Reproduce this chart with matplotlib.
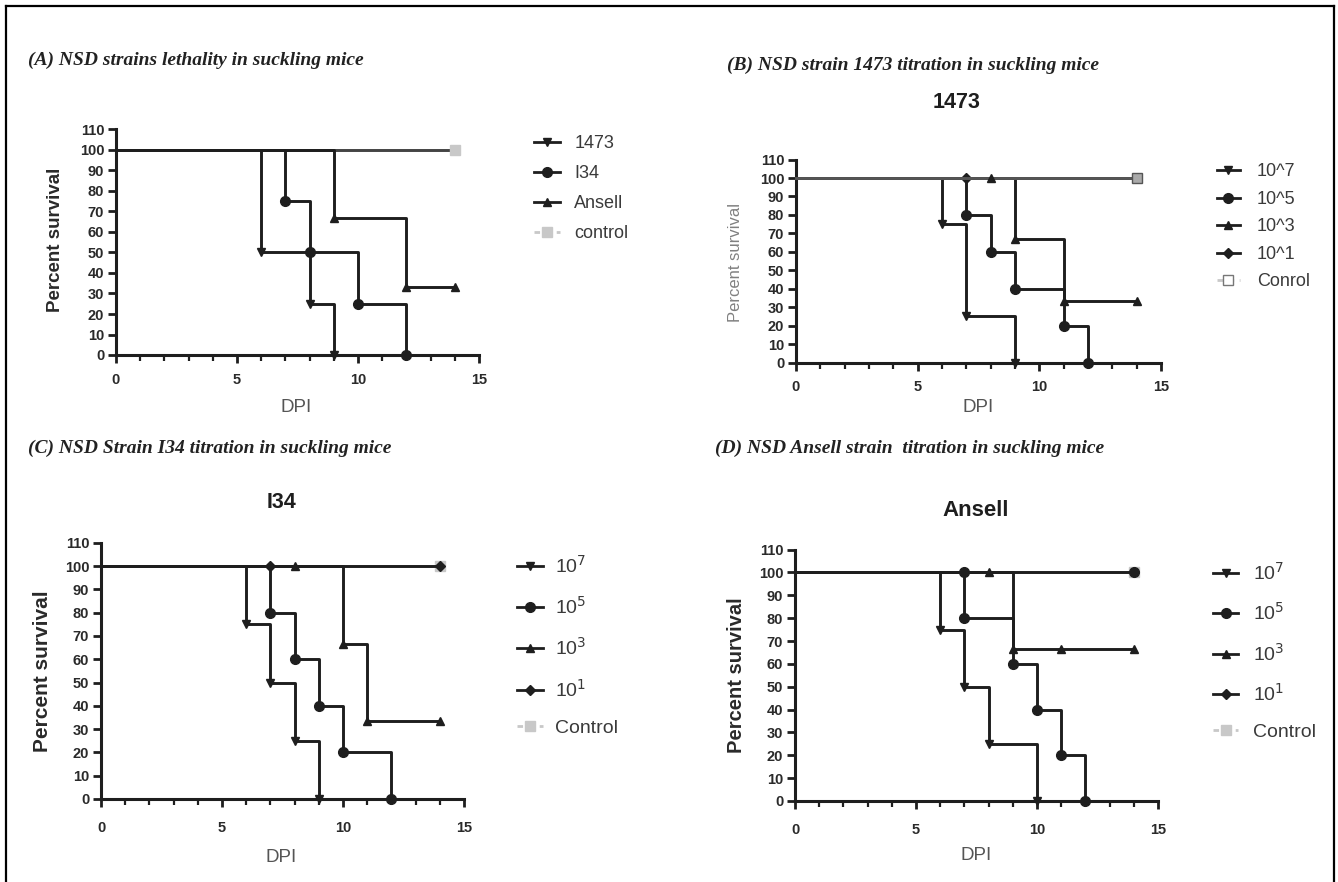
import matplotlib
matplotlib.use("Agg")
import matplotlib.pyplot as plt
from matplotlib.lines import Line2D
from matplotlib.ticker import MultipleLocator

W, H = 1338, 882

# ---- data: Kaplan-Meier steps (day, percent survival) ----
# (A) strains
a_labels = ["1473", "I34", "Ansell", "control"]
a_1473_t = [0, 6, 8, 9]
a_1473_s = [100, 50, 25, 0]
a_i34_t = [0, 7, 8, 10, 12]
a_i34_s = [100, 75, 50, 25, 0]
a_ansell_t = [0, 9, 12, 14]
a_ansell_s = [100, 66.7, 33.3, 33.3]
a_ctrl_t = [0, 14]
a_ctrl_s = [100, 100]

# (B) 1473 titration
b_labels = ["10^7", "10^5", "10^3", "10^1", "Conrol"]
b_e7_t = [0, 6, 7, 9]
b_e7_s = [100, 75, 25, 0]
b_e5_t = [0, 7, 8, 9, 11, 12]
b_e5_s = [100, 80, 60, 40, 20, 0]
b_e3_t = [0, 8, 9, 11, 14]
b_e3_s = [100, 100, 66.7, 33.3, 33.3]
b_e1_t = [0, 7, 14]
b_e1_s = [100, 100, 100]
b_ctrl_t = [0, 14]
b_ctrl_s = [100, 100]

# (C) I34 titration
c_labels = ["10$^7$", "10$^5$", "10$^3$", "10$^1$", "Control"]
c_e7_t = [0, 6, 7, 8, 9]
c_e7_s = [100, 75, 50, 25, 0]
c_e5_t = [0, 7, 8, 9, 10, 12]
c_e5_s = [100, 80, 60, 40, 20, 0]
c_e3_t = [0, 8, 10, 11, 14]
c_e3_s = [100, 100, 66.7, 33.3, 33.3]
c_e1_t = [0, 7, 14]
c_e1_s = [100, 100, 100]
c_ctrl_t = [0, 14]
c_ctrl_s = [100, 100]

# (D) Ansell titration
d_labels = ["10$^7$", "10$^5$", "10$^3$", "10$^1$", "Control"]
d_e7_t = [0, 6, 7, 8, 10]
d_e7_s = [100, 75, 50, 25, 0]
d_e5_t = [0, 7, 9, 10, 11, 12]
d_e5_s = [100, 80, 60, 40, 20, 0]
d_e3_t = [0, 8, 9, 11, 14]
d_e3_s = [100, 100, 66.7, 66.7, 66.7]
d_e1_t = [0, 7, 14]
d_e1_s = [100, 100, 100]
d_ctrl_t = [0, 14]
d_ctrl_s = [100, 100]

LC = "#1e1e1e"
GREY = "#c8c8c8"
markers = ["v", "o", "^", "D"]
msizes = [6, 7, 6, 5]

fig = plt.figure(figsize=(W / 100, H / 100), dpi=100)
plt.rcParams["font.family"] = ["Liberation Sans", "DejaVu Sans"]


def px_axes(x0, x15, y0, y110):
    ax = fig.add_axes([x0 / W, 1 - y0 / H, (x15 - x0) / W, (y0 - y110) / H])
    ax._px = (x0, x15, y0, y110)
    return ax


def km(ax, t, s, marker, ms, color=LC, mfc=None, zorder=3):
    ax.step(t, s, where="post", color=color, lw=2.1, zorder=zorder, clip_on=False)
    ax.plot(t[1:], s[1:], ls="none", marker=marker, ms=ms, color=color,
            mfc=mfc if mfc else color, clip_on=False, zorder=zorder + 1)


def style(ax, ylab_pos, xlab_pos, ylab_size, xpad, ylab_bold=True):
    x0, x15, y0, y110 = ax._px
    ax.set_xlim(0, 15)
    ax.set_ylim(0, 110)
    ax.xaxis.set_major_locator(MultipleLocator(5))
    ax.xaxis.set_minor_locator(MultipleLocator(1))
    ax.yaxis.set_major_locator(MultipleLocator(10))
    for side in ["top", "right"]:
        ax.spines[side].set_visible(False)
    for side in ["left", "bottom"]:
        ax.spines[side].set_linewidth(2.2)
        ax.spines[side].set_color(LC)
    ax.tick_params(which="major", direction="out", length=6, width=2, color=LC,
                   labelsize=10.5)
    ax.tick_params(axis="x", which="major", pad=xpad)
    ax.tick_params(axis="y", which="major", pad=2.5)
    ax.tick_params(which="minor", direction="out", length=4, width=1.6, color=LC)
    for lab in ax.get_xticklabels() + ax.get_yticklabels():
        lab.set_fontweight("bold")
        lab.set_color("#2a2a2a")
    ax.set_xlabel("DPI", fontsize=13.5, color="#555555")
    ax.xaxis.set_label_coords((xlab_pos[0] - x0) / (x15 - x0),
                              (y0 - xlab_pos[1]) / (y0 - y110))
    ax.xaxis.label.set_verticalalignment("center")
    ax.set_ylabel("Percent survival", fontsize=ylab_size,
                  fontweight="bold" if ylab_bold else "normal",
                  color="#2a2a2a" if ylab_bold else "#808080")
    ax.yaxis.set_label_coords((ylab_pos[0] - x0) / (x15 - x0),
                              (y0 - ylab_pos[1]) / (y0 - y110))
    ax.yaxis.label.set_verticalalignment("center")
    ax.patch.set_alpha(0)


def legend(ax, labels, x, y, fs, spacing, hlen, hpad, ctrl_face=GREY, ctrl_edge=GREY):
    handles = []
    n = len(labels)
    for i in range(n - 1):
        handles.append(Line2D([], [], color=LC, lw=2, marker=markers[i], ms=msizes[i]))
    handles.append(Line2D([], [], color=GREY, lw=2, ls=(0, (2, 2)), marker="s", ms=7,
                          mfc=ctrl_face, mec=ctrl_edge))
    ax.legend(handles, labels, loc="upper left", bbox_to_anchor=(x / W, 1 - y / H),
              bbox_transform=fig.transFigure, frameon=False, fontsize=fs,
              labelspacing=spacing, handlelength=hlen, handletextpad=hpad,
              borderaxespad=0, borderpad=0, labelcolor="#3a3a3a")


title_kw = dict(family=["Liberation Serif", "DejaVu Serif"], style="italic",
                fontweight="bold", fontsize=14, color="#222222", va="center")
sub_kw = dict(fontsize=15.5, fontweight="bold", color="#1e1e1e", ha="center", va="center")

# ---- (A) ----
ax = px_axes(116, 479, 355, 129.5)
km(ax, a_ctrl_t, a_ctrl_s, "s", 7, color=GREY, zorder=2)
km(ax, a_1473_t, a_1473_s, markers[0], msizes[0])
km(ax, a_i34_t, a_i34_s, markers[1], msizes[1])
km(ax, a_ansell_t, a_ansell_s, markers[2], msizes[2])
ax.plot([0, 14], [100, 100], color="#444444", lw=2.1, zorder=2.5, clip_on=False)
style(ax, (55, 240), (296, 407), 13.5, 7)
legend(ax, a_labels, 534, 135.5, 13, 0.72, 1.45, 0.78)
fig.text(28 / W, 1 - 60 / H, "(A) NSD strains lethality in suckling mice", **title_kw)

# ---- (B) ----
ax = px_axes(796, 1161, 362.5, 159.6)
km(ax, b_e1_t, b_e1_s, markers[3], msizes[3])
km(ax, b_ctrl_t, b_ctrl_s, "s", 7, color="#555555", mfc="#aaaaaa", zorder=4)
km(ax, b_e7_t, b_e7_s, markers[0], msizes[0])
km(ax, b_e5_t, b_e5_s, markers[1], msizes[1])
km(ax, b_e3_t, b_e3_s, markers[2], msizes[2])
style(ax, (736, 262), (978, 408), 12, 6.5, ylab_bold=False)
legend(ax, b_labels, 1217, 163.5, 13, 0.58, 1.27, 0.94, ctrl_face="white", ctrl_edge="#777777")
fig.text(727 / W, 1 - 65 / H, "(B) NSD strain 1473 titration in suckling mice", **title_kw)
fig.text(957 / W, 1 - 103 / H, "1473", **sub_kw)

# ---- (C) ----
ax = px_axes(101, 464, 799, 542.7)
km(ax, c_ctrl_t, c_ctrl_s, "s", 7, color=GREY, zorder=2)
km(ax, c_e1_t, c_e1_s, markers[3], msizes[3])
km(ax, c_e7_t, c_e7_s, markers[0], msizes[0])
km(ax, c_e5_t, c_e5_s, markers[1], msizes[1])
km(ax, c_e3_t, c_e3_s, markers[2], msizes[2])
style(ax, (43, 671), (281, 857), 15, 10)
legend(ax, c_labels, 517, 555, 14, 0.99, 1.34, 0.62)
fig.text(28 / W, 1 - 448 / H, "(C) NSD Strain I34 titration in suckling mice", **title_kw)
fig.text(281 / W, 1 - 502 / H, "I34", **sub_kw)

# ---- (D) ----
ax = px_axes(795, 1158, 801, 549.6)
km(ax, d_ctrl_t, d_ctrl_s, "s", 7, color=GREY, zorder=2)
km(ax, d_e1_t, d_e1_s, "o", 7)
km(ax, d_e7_t, d_e7_s, markers[0], msizes[0])
km(ax, d_e5_t, d_e5_s, markers[1], msizes[1])
km(ax, d_e3_t, d_e3_s, markers[2], msizes[2])
style(ax, (736, 675), (976, 855), 14.5, 10)
legend(ax, d_labels, 1213, 562, 14, 0.95, 1.29, 0.77)
fig.text(715 / W, 1 - 448 / H, "(D) NSD Ansell strain  titration in suckling mice", **title_kw)
fig.text(976 / W, 1 - 510 / H, "Ansell", fontsize=16, fontweight="bold",
         color="#1e1e1e", ha="center", va="center")

# outer frame
for xs, ys in [([6, 6], [6, 882]), ([6, 1334], [6, 6]), ([1334, 1334], [6, 882])]:
    fig.add_artist(Line2D([x / W for x in xs], [1 - y / H for y in ys],
                          color="black", lw=1.6, transform=fig.transFigure))

fig.savefig("out.png", dpi=100)
